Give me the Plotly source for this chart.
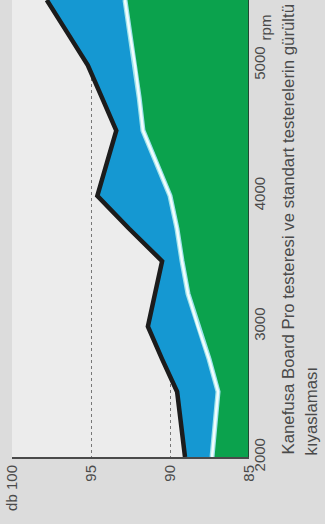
import plotly.graph_objects as go

# rpm values (vertical axis in the rotated chart)
rpm = [2000, 2250, 2500, 2750, 3000, 3250, 3500, 3750, 4000, 4250, 4500, 4750, 5000, 5250, 5500]
# standard saw noise (db)
standard = [89.05, 89.3, 89.55, 90.5, 91.4, 90.95, 90.5, 92.6, 94.6, 94.0, 93.4, 94.3, 95.2, 96.5, 97.8]
# Kanefusa Board Pro noise (db)
kanefusa = [87.34, 87.15, 86.96, 87.53, 88.23, 88.86, 89.24, 89.56, 90.0, 90.85, 91.71, 91.95, 92.22, 92.55, 92.85]
floor_db = [85] * len(rpm)

db_ticks = [100, 95, 90, 85]
db_ticktext = ["db 100", "95", "90", "85"]
rpm_ticks = [2000, 3000, 4000, 5000]
rpm_ticktext = ["2000", "3000", "4000", "5000"]
caption1 = "Kanefusa Board Pro testeresi ve standart testerelerin gürültü"
caption2 = "kıyaslaması"

GREEN = "#0ba24d"
BLUE = "#1598d2"
FONT = "Liberation Sans, Arial, sans-serif"
TXT = "#4a4a4a"

fig = go.Figure()
fig.add_trace(go.Scatter(x=floor_db, y=rpm, mode="lines", line=dict(width=0), hoverinfo="skip", showlegend=False))
fig.add_trace(go.Scatter(x=kanefusa, y=rpm, mode="lines", line=dict(width=0), fill="tonextx",
                         fillcolor=GREEN, showlegend=False))
fig.add_trace(go.Scatter(x=standard, y=rpm, mode="lines", line=dict(width=0), fill="tonextx",
                         fillcolor=BLUE, showlegend=False))
fig.add_trace(go.Scatter(x=kanefusa, y=rpm, mode="lines", line=dict(width=5, color="#9fe3ec"), showlegend=False))
fig.add_trace(go.Scatter(x=kanefusa, y=rpm, mode="lines", line=dict(width=2.5, color="#f2fdfd"), showlegend=False))
fig.add_trace(go.Scatter(x=standard, y=rpm, mode="lines", line=dict(width=4.5, color="#1c1c1c"), showlegend=False))

fig.add_shape(type="line", xref="x", yref="paper", x0=85, x1=85, y0=0, y1=1,
              line=dict(color="#2a2a2a", width=1.5))

fig.add_annotation(text="rpm", xref="paper", yref="y", x=1.0675, y=5290, xanchor="center", yanchor="middle",
                   textangle=-90, showarrow=False, font=dict(family=FONT, size=15, color=TXT))
fig.add_annotation(text=caption1, xref="paper", yref="paper", x=1.1646, y=0, xanchor="center", yanchor="bottom",
                   textangle=-90, showarrow=False, font=dict(family=FONT, size=16.8, color=TXT))
fig.add_annotation(text=caption2, xref="paper", yref="paper", x=1.2658, y=0, xanchor="center", yanchor="bottom",
                   textangle=-90, showarrow=False, font=dict(family=FONT, size=16.8, color=TXT))

fig.update_layout(
    width=325, height=524,
    margin=dict(l=12, r=76, t=0, b=67),
    paper_bgcolor="#dcdcdc",
    plot_bgcolor="#ececec",
    showlegend=False,
    xaxis=dict(range=[100, 85], tickvals=db_ticks, ticktext=db_ticktext, tickangle=-90,
               showgrid=True, gridcolor="rgba(70,70,70,0.7)", griddash="dot", gridwidth=1,
               showline=True, linecolor="#4a4a4a", linewidth=2, zeroline=False,
               ticks="", layer="above traces", automargin=False,
               tickfont=dict(family=FONT, size=15, color=TXT)),
    yaxis=dict(range=[2000, 5500], side="right", tickvals=rpm_ticks, ticktext=rpm_ticktext,
               tickangle=-90, showgrid=False, zeroline=False, showline=False, ticks="",
               automargin=False, tickfont=dict(family=FONT, size=15, color=TXT)),
)

fig.write_html("out.html", config={"displayModeBar": False},
               post_script="document.body.style.margin='0';document.body.style.overflow='hidden';")
